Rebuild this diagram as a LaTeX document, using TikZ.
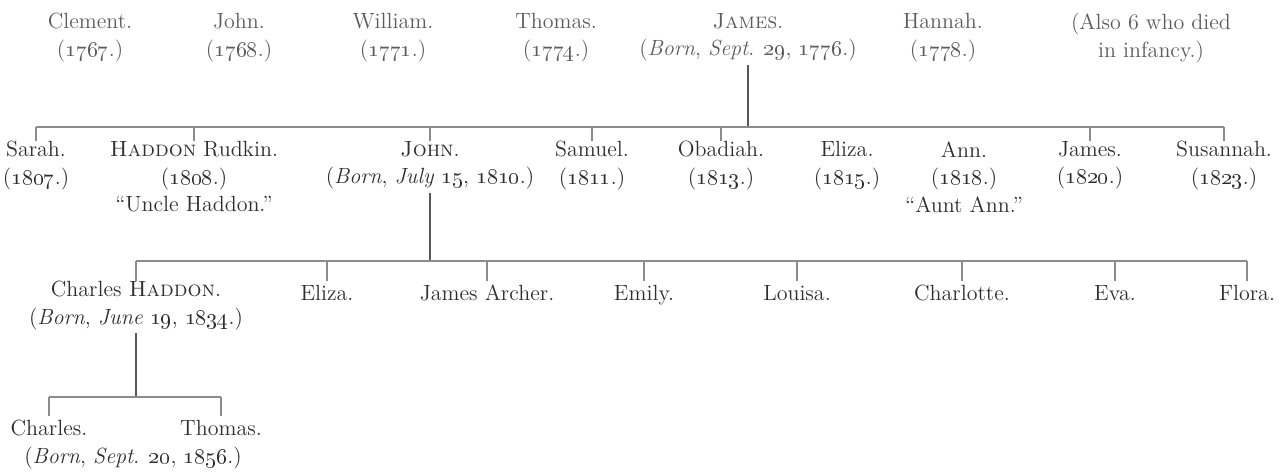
\documentclass[tikz,border=0pt]{standalone}
\usepackage{xcolor}
\usepackage{tikz}
\definecolor{Ink}{HTML}{2E2E2E}
\definecolor{Faded}{HTML}{5C5C5C}
\definecolor{Rule}{HTML}{8C8C8C}
\newcommand{\yr}[1]{(\oldstylenums{#1}.)}

\begin{document}
\begin{tikzpicture}[
  x=0.5pt,y=-0.5pt,
  person/.style={align=center,inner sep=0pt,anchor=north,text=Ink,
                 font=\fontsize{11}{13.75}\selectfont,execute at begin node=\strut},
  elder/.style={person,text=Faded},
  bar/.style={draw=Rule,line width=0.6pt},
  stem/.style={draw=Ink!80,line width=0.6pt}
]
  \useasboundingbox (0,0) rectangle (1288,471);

  \coordinate (bar2) at (0,127);
  \coordinate (bar3) at (0,261);
  \coordinate (bar4) at (0,397);

  \node[elder] (clement) at (90,13) {Clement.\\\yr{1767}};
  \node[elder] (john1768) at (239,13) {John.\\\yr{1768}};
  \node[elder] (william) at (393,13) {William.\\\yr{1771}};
  \node[elder] (thomas1774) at (556,13) {Thomas.\\\yr{1774}};
  \node[elder] (james1776) at (748,13) {\textsc{James}.\\
    (\textit{Born}, \textit{Sept}. \oldstylenums{29}, \oldstylenums{1776}.)};
  \node[elder] (hannah) at (943,13) {Hannah.\\\yr{1778}};
  \node[elder] (infancy) at (1151,13) {(Also 6 who died\\in infancy.)};

  \node[person] (sarah) at (36,141) {Sarah.\\\yr{1807}};
  \node[person] (haddon) at (194,141) {\textsc{Haddon} Rudkin.\\\yr{1808}\\“Uncle Haddon.”};
  \node[person] (john1810) at (430,141) {\textsc{John}.\\
    (\textit{Born}, \textit{July} \oldstylenums{15}, \oldstylenums{1810}.)};
  \node[person] (samuel) at (592,141) {Samuel.\\\yr{1811}};
  \node[person] (obadiah) at (721,141) {Obadiah.\\\yr{1813}};
  \node[person] (eliza1815) at (847,141) {Eliza.\\\yr{1815}};
  \node[person] (ann) at (964,141) {Ann.\\\yr{1818}\\“Aunt Ann.”};
  \node[person] (james1820) at (1090,141) {James.\\\yr{1820}};
  \node[person] (susannah) at (1224,141) {Susannah.\\\yr{1823}};

  \node[person] (chaddon) at (136,281) {Charles \textsc{Haddon}.\\
    (\textit{Born}, \textit{June} \oldstylenums{19}, \oldstylenums{1834}.)};
  \node[person] (eliza) at (327,281) {Eliza.};
  \node[person] (archer) at (487,281) {James Archer.};
  \node[person] (emily) at (644,281) {Emily.};
  \node[person] (louisa) at (797,281) {Louisa.};
  \node[person] (charlotte) at (962,281) {Charlotte.};
  \node[person] (eva) at (1115,281) {Eva.};
  \node[person] (flora) at (1247,281) {Flora.};

  \node[person] (charles) at (49,416) {Charles.};
  \node[person] (thomas1856) at (221,416) {Thomas.};
  \node[person] (charlesborn) at (133,444)
    {(\textit{Born}, \textit{Sept}. \oldstylenums{20}, \oldstylenums{1856}.)};

  \draw[stem] (james1776.south) -- (james1776.south |- bar2);
  \draw[bar] (sarah |- bar2) -- (susannah |- bar2);
  \draw[bar] (sarah |- bar2) -- (sarah.north);
  \draw[bar] (haddon |- bar2) -- (haddon.north);
  \draw[bar] (john1810 |- bar2) -- (john1810.north);
  \draw[bar] (samuel |- bar2) -- (samuel.north);
  \draw[bar] (obadiah |- bar2) -- (obadiah.north);
  \draw[bar] (james1820 |- bar2) -- (james1820.north);
  \draw[bar] (susannah |- bar2) -- (susannah.north);

  \draw[stem] (john1810.south) -- (john1810.south |- bar3);
  \draw[bar] (chaddon |- bar3) -- (flora |- bar3);
  \draw[bar] (chaddon |- bar3) -- (chaddon.north);
  \draw[bar] (eliza |- bar3) -- (eliza.north);
  \draw[bar] (archer |- bar3) -- (archer.north);
  \draw[bar] (emily |- bar3) -- (emily.north);
  \draw[bar] (louisa |- bar3) -- (louisa.north);
  \draw[bar] (charlotte |- bar3) -- (charlotte.north);
  \draw[bar] (eva |- bar3) -- (eva.north);
  \draw[bar] (flora |- bar3) -- (flora.north);

  \draw[stem] (chaddon.south) -- (chaddon.south |- bar4);
  \draw[bar] (charles |- bar4) -- (thomas1856 |- bar4);
  \draw[bar] (charles |- bar4) -- (charles.north);
  \draw[bar] (thomas1856 |- bar4) -- (thomas1856.north);

\end{tikzpicture}
\end{document}
